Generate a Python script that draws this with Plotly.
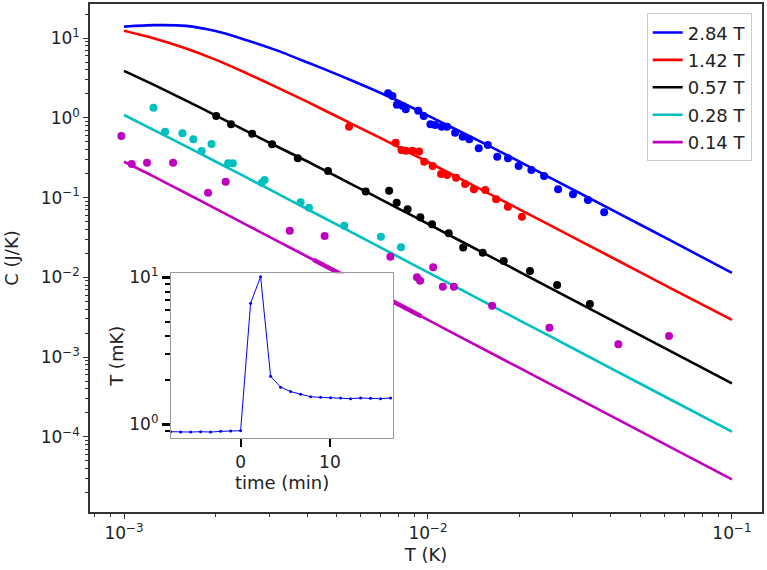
import plotly.graph_objects as go

# ---- fitted curves ----
fit_T = [1e-3, 1.25e-3, 1.6e-3, 2e-3, 2.5e-3, 3.2e-3, 4e-3, 5e-3, 6.3e-3, 8e-3,
         1e-2, 1.6e-2, 2.5e-2, 4e-2, 6.3e-2, 1e-1]
fit_284 = [14.0, 14.6, 14.3, 12.3, 9.6, 7.0, 5.0, 3.55, 2.45, 1.63,
           1.07, 0.44, 0.181, 0.0713, 0.0288, 0.0114]
fit_142 = [12.4, 10.0, 7.45, 5.4, 3.72, 2.4, 1.6, 1.05, 0.68, 0.43,
           0.28, 0.111, 0.0458, 0.0180, 7.28e-3, 2.92e-3]
fit_057 = [3.9, 2.62, 1.65, 1.08, 0.70, 0.435, 0.286, 0.185, 0.117, 0.073,
           0.0468, 0.0183, 7.5e-3, 2.93e-3, 1.18e-3, 4.68e-4]
fit_028 = [1.09, 0.71, 0.44, 0.284, 0.183, 0.112, 0.0720, 0.0461, 0.0291, 0.01805,
           0.01155, 4.51e-3, 1.85e-3, 7.22e-4, 2.91e-4, 1.155e-4]
fit_014 = [0.282, 0.185, 0.1135, 0.0727, 0.0466, 0.0285, 0.01825, 0.01168, 7.36e-3, 4.56e-3,
           2.92e-3, 1.14e-3, 4.67e-4, 1.825e-4, 7.36e-5, 2.92e-5]
seg_014_T = [4.2e-3, 5e-3, 6.3e-3, 8e-3, 9.5e-3]
seg_014_C = [0.0166, 0.01168, 7.36e-3, 4.56e-3, 3.24e-3]

# ---- measured points ----
pts_284_T = [7.39e-3, 7.64e-3, 7.90e-3, 8.26e-3, 8.45e-3, 9.29e-3, 9.68e-3, 0.01019, 0.01055,
             0.01110, 0.01156, 0.01228, 0.01301, 0.01368, 0.01469, 0.01574, 0.01690, 0.01833,
             0.01987, 0.02188, 0.02410, 0.0268, 0.0300, 0.0336, 0.0380]
pts_284_C = [2.04, 1.89, 1.46, 1.41, 1.29, 1.23, 1.06, 0.834, 0.817,
             0.778, 0.778, 0.653, 0.582, 0.539, 0.417, 0.459, 0.327, 0.312,
             0.249, 0.222, 0.187, 0.127, 0.110, 0.0935, 0.0655]
pts_142_T = [5.50e-3, 7.83e-3, 8.18e-3, 8.45e-3, 8.89e-3, 9.35e-3, 9.72e-3, 0.01036, 0.01104,
             0.01156, 0.01237, 0.01325, 0.01416, 0.01543, 0.01676, 0.01832, 0.02038]
pts_142_C = [0.778, 0.490, 0.396, 0.388, 0.388, 0.378, 0.282, 0.249, 0.198,
             0.192, 0.178, 0.148, 0.127, 0.125, 0.0953, 0.0771, 0.0577]
pts_057_T = [2.01e-3, 2.25e-3, 2.64e-3, 3.07e-3, 3.73e-3, 4.69e-3, 6.24e-3, 7.45e-3, 7.89e-3,
             8.57e-3, 9.44e-3, 0.01031, 0.0117, 0.01306, 0.01514, 0.01775, 0.02166, 0.0266, 0.0341]
pts_057_C = [1.06, 0.834, 0.635, 0.468, 0.312, 0.216, 0.119, 0.122, 0.0865,
             0.0714, 0.0567, 0.0464, 0.0357, 0.0236, 0.0204, 0.01603, 0.01202, 8.02e-3, 4.62e-3]
pts_028_T = [1.25e-3, 1.365e-3, 1.556e-3, 1.69e-3, 1.80e-3, 1.94e-3, 2.20e-3, 2.28e-3, 2.84e-3,
             2.90e-3, 3.81e-3, 4.06e-3, 5.30e-3, 7.0e-3, 8.15e-3]
pts_028_C = [1.345, 0.673, 0.643, 0.540, 0.385, 0.471, 0.270, 0.270, 0.154,
             0.167, 0.0875, 0.0748, 0.0445, 0.0324, 0.0238]
pts_014_T = [9.8e-4, 1.06e-3, 1.19e-3, 1.45e-3, 1.89e-3, 2.16e-3, 3.51e-3, 4.57e-3, 7.52e-3,
             9.2e-3, 9.42e-3, 0.0104, 0.01119, 0.01217, 0.01626, 0.0251, 0.0423, 0.0621]
pts_014_C = [0.594, 0.264, 0.275, 0.275, 0.115, 0.158, 0.0385, 0.0330, 0.01815,
             0.01003, 9.08e-3, 0.01336, 7.64e-3, 7.64e-3, 4.41e-3, 2.33e-3, 1.445e-3, 1.84e-3]

# ---- inset ----
inset_time = [-7.84, -6.72, -5.6, -4.48, -3.36, -2.24, -1.12, 0, 1.12, 2.24, 3.36, 4.48,
              5.6, 6.72, 7.84, 8.96, 10.08, 11.2, 12.32, 13.44, 14.56, 15.68, 16.8]
inset_T = [0.891, 0.886, 0.886, 0.891, 0.886, 0.896, 0.900, 0.905, 6.65, 10.1, 2.12, 1.79,
           1.67, 1.60, 1.54, 1.525, 1.518, 1.51, 1.494, 1.51, 1.502, 1.494, 1.51]

# ---- tick labels ----
x_exps = [-3, -2, -1]
y_exps = [-4, -3, -2, -1, 0, 1]
inset_y_exps = [0, 1]
inset_x_ticks = [0, 10]

labels = ["2.84 T", "1.42 T", "0.57 T", "0.28 T", "0.14 T"]
colors = ["#0000ff", "#ff0000", "#000000", "#00bfbf", "#bf00bf"]
fits = [fit_284, fit_142, fit_057, fit_028, fit_014]
pts = [(pts_284_T, pts_284_C), (pts_142_T, pts_142_C), (pts_057_T, pts_057_C),
       (pts_028_T, pts_028_C), (pts_014_T, pts_014_C)]


def pow_label(e):
    return "10<sup>" + (("\u2212" + str(-e)) if e < 0 else str(e)) + "</sup>"


def minor_vals(lo, hi):
    return [m * 10.0 ** e for e in range(lo, hi) for m in range(2, 10)]


FONT = "DejaVu Sans"
fig = go.Figure()

for lab, col, fy in zip(labels, colors, fits):
    fig.add_trace(go.Scatter(x=fit_T, y=fy, mode="lines", name=lab,
                             line=dict(color=col, width=2.6, shape="spline", smoothing=0.6),
                             legendgroup=lab))
fig.add_trace(go.Scatter(x=seg_014_T, y=seg_014_C, mode="lines", showlegend=False,
                         line=dict(color=colors[4], width=4.5)))
for col, (px, py) in zip(colors, pts):
    fig.add_trace(go.Scatter(x=px, y=py, mode="markers", showlegend=False,
                             marker=dict(color=col, size=8, line=dict(width=0))))

fig.add_trace(go.Scatter(x=inset_time, y=inset_T, mode="lines+markers", showlegend=False,
                         xaxis="x2", yaxis="y2",
                         line=dict(color="#0000ff", width=1),
                         marker=dict(color="#0000ff", size=3)))

axcol = "#333333"
common = dict(showgrid=False, zeroline=False, showline=True, mirror=True, automargin=False,
              linecolor=axcol, linewidth=1.5, ticks="outside", tickcolor=axcol,
              ticklen=5, tickwidth=1.2,
              tickfont=dict(family=FONT, size=17, color="#222"))
fig.update_layout(
    width=767, height=570, autosize=False,
    margin=dict(l=90, r=5, t=4, b=58),
    paper_bgcolor="white", plot_bgcolor="white",
    font=dict(family=FONT, size=18, color="#222"),
    xaxis=dict(type="log", range=[-3.112, -0.901],
               tickmode="array", tickvals=[10.0 ** e for e in x_exps],
               ticktext=[pow_label(e) for e in x_exps],
               minor=dict(ticks="outside", ticklen=3, tickcolor=axcol,
                          tickmode="array", tickvals=minor_vals(-4, 0)),
               title=dict(text="T (K)", font=dict(family=FONT, size=18), standoff=6),
               **common),
    yaxis=dict(type="log", range=[-4.945, 1.43],
               tickmode="array", tickvals=[10.0 ** e for e in y_exps],
               ticktext=[pow_label(e) for e in y_exps],
               minor=dict(ticks="outside", ticklen=3, tickcolor=axcol,
                          tickmode="array", tickvals=minor_vals(-5, 2)),
               title=dict(text="C (J/K)", font=dict(family=FONT, size=18), standoff=17),
               **common),
    xaxis2=dict(domain=[0.1205, 0.4513], anchor="y2", range=[-7.8, 17.1],
                tickmode="array", tickvals=inset_x_ticks,
                ticktext=[str(v) for v in inset_x_ticks],
                showgrid=False, zeroline=False, showline=True, mirror=True, automargin=False,
                linecolor="#999999", linewidth=1.2, ticks="outside", ticklen=8,
                tickwidth=2, tickcolor="black",
                tickfont=dict(family=FONT, size=17, color="#222"),
                title=dict(text="time (min)", font=dict(family=FONT, size=18), standoff=0)),
    yaxis2=dict(domain=[0.1451, 0.4699], anchor="x2", type="log", range=[-0.095, 1.027],
                tickmode="array", tickvals=[10.0 ** e for e in inset_y_exps],
                ticktext=[pow_label(e) for e in inset_y_exps],
                showgrid=False, zeroline=False, showline=True, mirror=True, automargin=False,
                linecolor="#999999", linewidth=1.2, ticks="outside", ticklen=8,
                tickwidth=2.5, tickcolor="black",
                minor=dict(ticks="outside", ticklen=5, tickwidth=1.5, tickcolor="black",
                           tickmode="array", tickvals=minor_vals(-1, 1)),
                tickfont=dict(family=FONT, size=17, color="#222"),
                title=dict(text="T (mK)", font=dict(family=FONT, size=18), standoff=0)),
    legend=dict(x=0.9847, y=0.9817, xanchor="right", yanchor="top",
                bgcolor="white", bordercolor="#cccccc", borderwidth=1,
                font=dict(family=FONT, size=18, color="#222"),
                tracegroupgap=1, traceorder="grouped"),
)

fig.write_html("out.html", config={"displayModeBar": False},
               post_script="document.body.style.margin='0';document.body.style.overflow='hidden';")
